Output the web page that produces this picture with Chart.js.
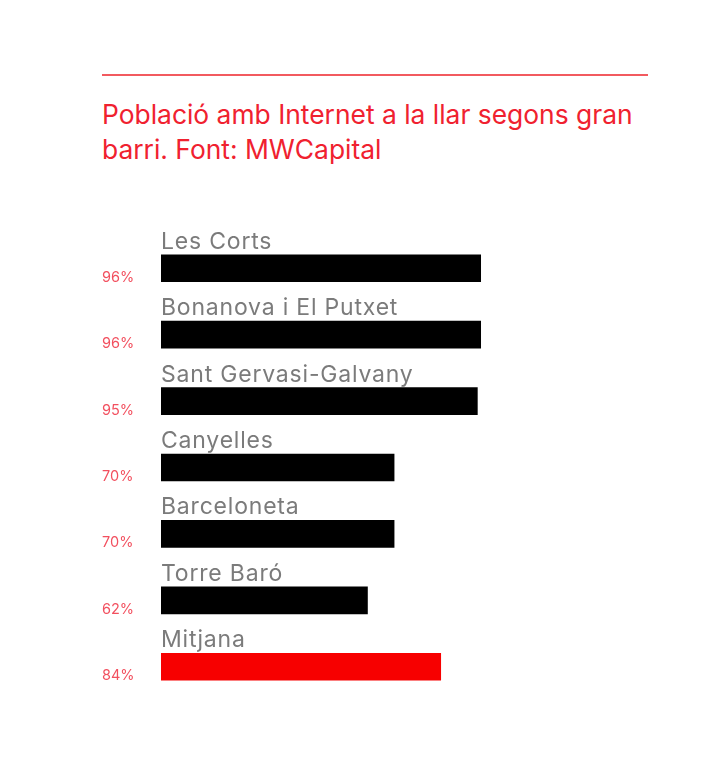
<!DOCTYPE html>
<html>
<head>
<meta charset="utf-8">
<title>Població amb Internet a la llar</title>
<script src="https://cdn.jsdelivr.net/npm/chart.js"></script>
<style>
body{
  margin:0;
  background:#fff;
  width:720px;
  height:757px;
  position:relative;
  overflow:hidden;
}
.rule{
  position:absolute;
  left:102px;
  top:74px;
  width:546px;
  height:2px;
  background:#f25a5f;
}
.title{
  position:absolute;
  left:102px;
  top:97px;
  width:570px;
  font-family:Inter, Roboto, Arial, sans-serif;
  font-size:26.4px;
  line-height:35px;
  color:#f0212f;
}
canvas{
  position:absolute;
  left:0;
  top:0;
}
</style>
</head>
<body>

<div class="rule"></div>
<div class="title">Població amb Internet a la llar segons gran barri. Font: MWCapital</div>
<canvas id="chart" width="720" height="757"></canvas>

<script>
// ================= DATA =================
const barris = ["Les Corts", "Bonanova i El Putxet", "Sant Gervasi-Galvany", "Canyelles", "Barceloneta", "Torre Baró", "Mitjana"];
const percent = [96, 96, 95, 70, 70, 62, 84];
const barColors = ["#000", "#000", "#000", "#000", "#000", "#000", "#f70000"];

// ================= LABELS =================
const labelPlugin = {
  id: "barLabels",
  afterDatasetsDraw(chart){
    const ctx = chart.ctx;
    const meta = chart.getDatasetMeta(0);
    ctx.save();
    meta.data.forEach((bar, i) => {
      const top = bar.y - bar.height / 2;
      const bottom = bar.y + bar.height / 2;
      // category name above bar
      ctx.font = "23px Inter, Roboto, Arial, sans-serif";
      ctx.letterSpacing = "0.8px";
      ctx.fillStyle = "#7b7b7b";
      ctx.textAlign = "left";
      ctx.textBaseline = "alphabetic";
      ctx.fillText(barris[i], chart.chartArea.left, top - 6);
      // value on the left
      ctx.font = "14.5px Inter, Roboto, Arial, sans-serif";
      ctx.letterSpacing = "0px";
      ctx.fillStyle = "#f2505f";
      ctx.fillText(percent[i] + "%", 102, bottom);
    });
    ctx.restore();
  }
};

new Chart(document.getElementById("chart"), {
  type: "bar",
  data: {
    labels: barris,
    datasets: [{
      data: percent,
      backgroundColor: barColors,
      barThickness: 27
    }]
  },
  options: {
    indexAxis: "y",
    responsive: false,
    animation: false,
    layout: { padding: { left: 161, right: 226, top: 235, bottom: 57 } },
    scales: {
      x: { display: false, min: 0, max: 100 },
      y: { display: false }
    },
    plugins: {
      legend: { display: false },
      tooltip: { enabled: false }
    }
  },
  plugins: [labelPlugin]
});
</script>

</body>
</html>
